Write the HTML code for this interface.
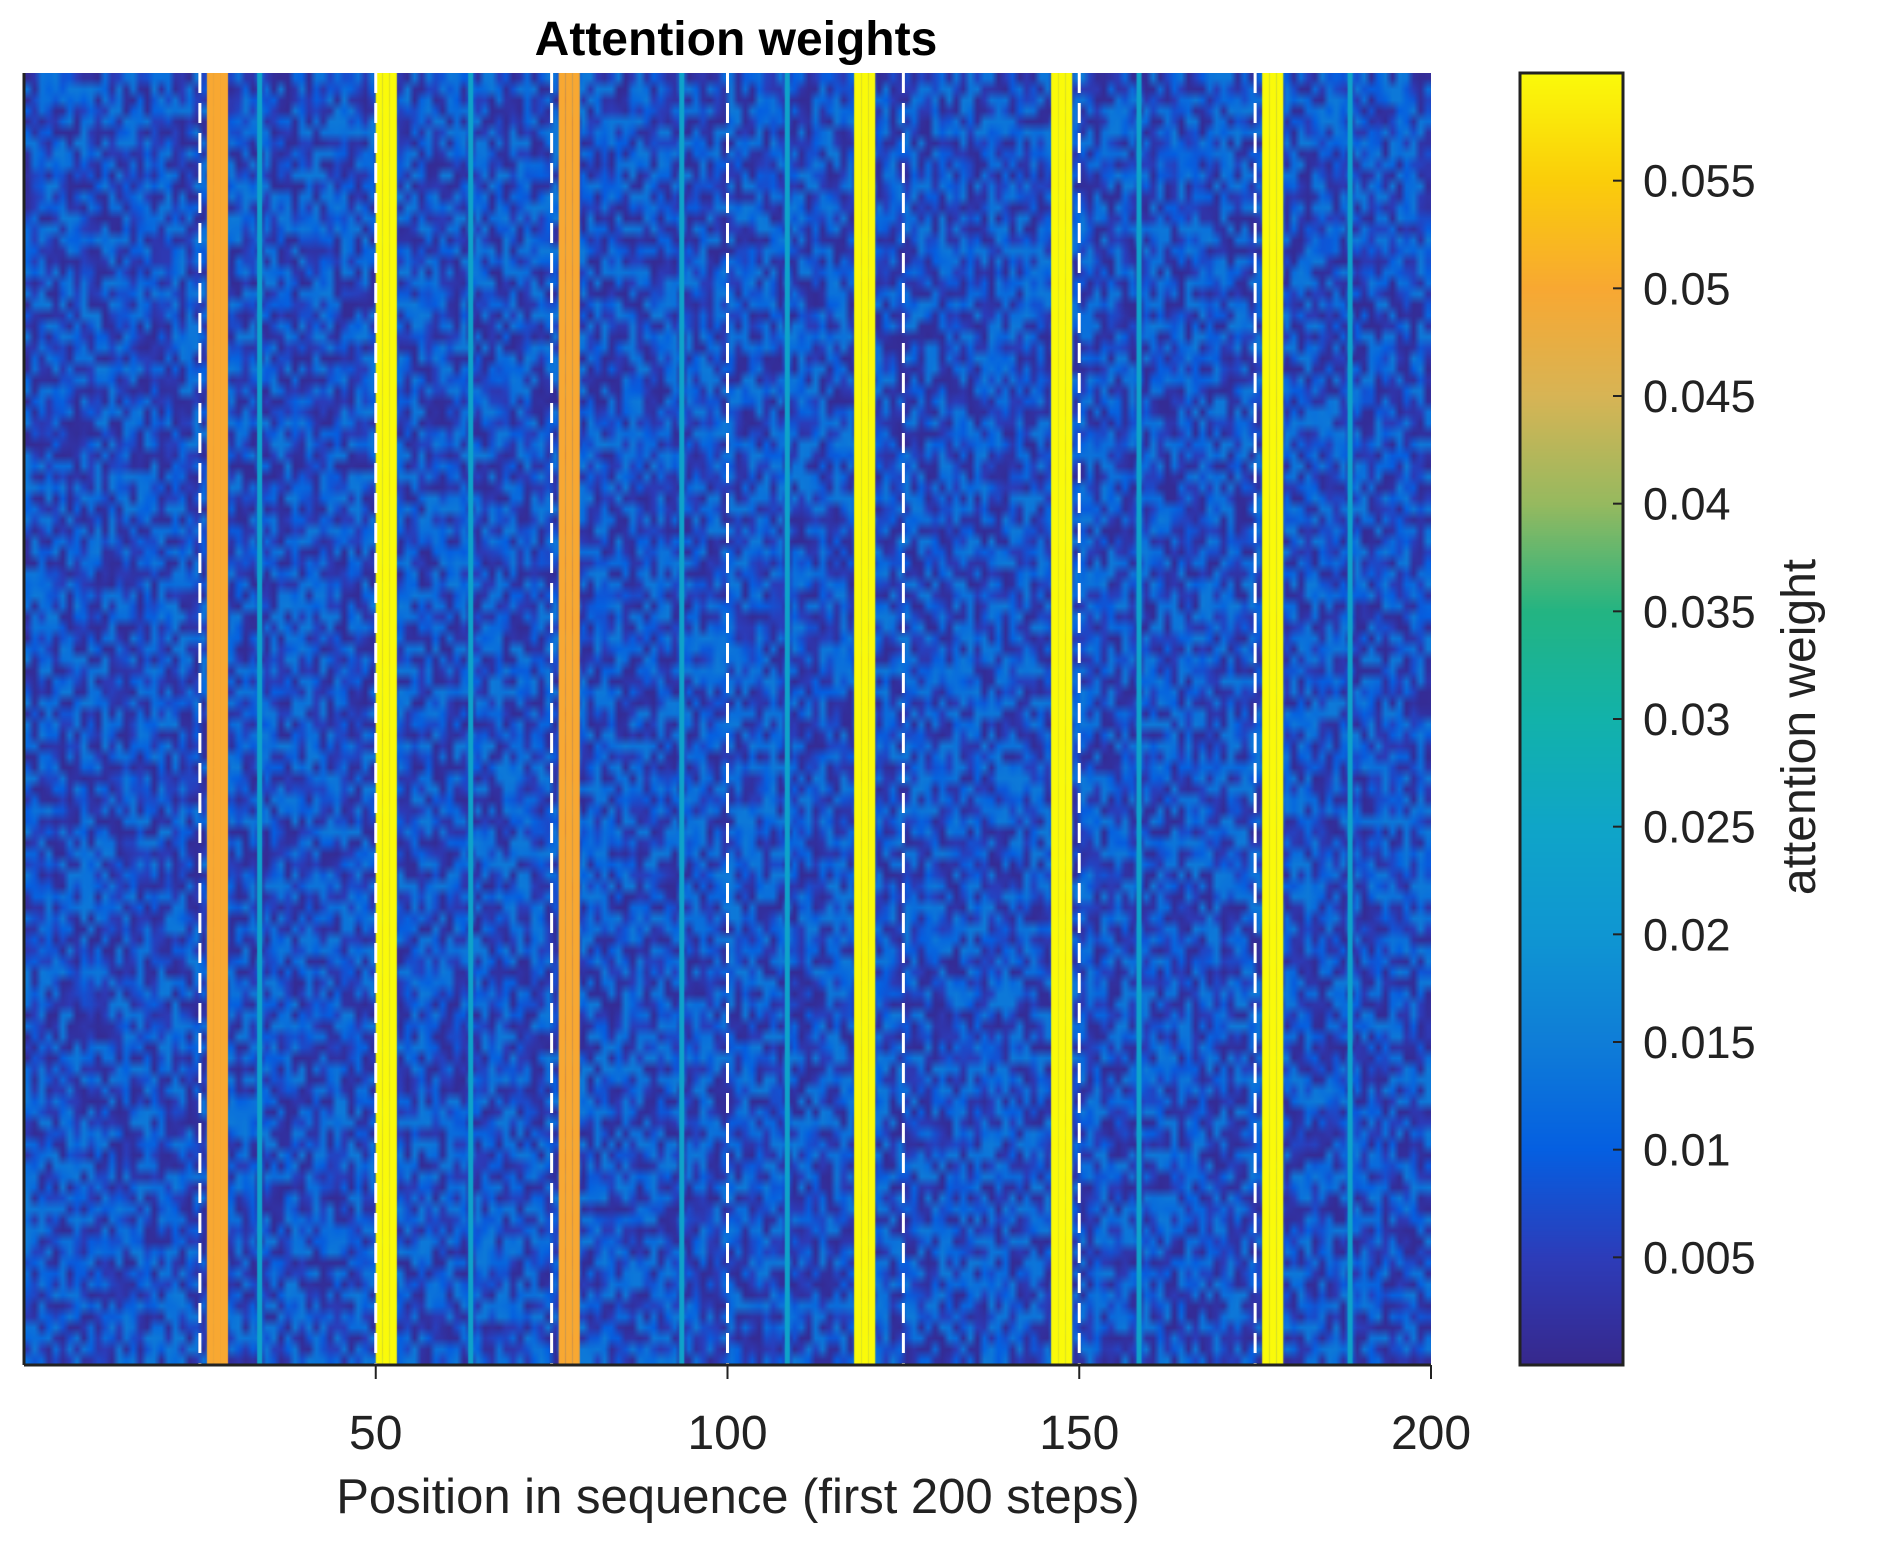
<!DOCTYPE html>
<html><head><meta charset="utf-8"><style>
html,body{margin:0;padding:0;background:#fff;width:1877px;height:1550px;overflow:hidden}
#wrap{position:relative;width:1877px;height:1550px;font-family:"Liberation Sans",Arial,sans-serif}
canvas{position:absolute}
svg{position:absolute;left:0;top:0}
</style></head><body>
<div id="wrap">
<canvas id="heat" width="1407" height="1292" style="left:24px;top:73px"></canvas>
<canvas id="cbar" width="103" height="1292" style="left:1520px;top:73px"></canvas>
<svg id="ov" width="1877" height="1550"></svg>
</div>
<script>
// ---- data ----
const nCols = 200;
const nRows = 120;
const peakCols = [27,28,29, 51,52,53, 77,78,79, 119,120,121, 147,148,149, 177,178,179];
const peakVals = [0.050,0.050,0.050, 0.060,0.060,0.060, 0.050,0.050,0.050, 0.060,0.060,0.060, 0.060,0.060,0.060, 0.060,0.060,0.060];
const tealCols = [34, 64, 94, 109, 159, 189];
const tealVals = [0.024, 0.024, 0.024, 0.024, 0.024, 0.024];
const dashedX = [25, 50, 75, 100, 125, 150, 175];
const xTicks = [50, 100, 150, 200];
const xTickLabels = ["50","100","150","200"];
const cTicks = [0.005,0.01,0.015,0.02,0.025,0.03,0.035,0.04,0.045,0.05,0.055];
const cTickLabels = ["0.005","0.01","0.015","0.02","0.025","0.03","0.035","0.04","0.045","0.05","0.055"];
const bgLow = 0.001, bgHigh = 0.0145;
const cMin = 0, cMax = 0.06;

// ---- geometry ----
const PX0=24, PX1=1431, PY0=73, PY1=1365;
const CX0=1520, CX1=1623;
const xScale = v => PX0 + (v/200)*(PX1-PX0);
const cScale = v => PY1 - (v-cMin)/(cMax-cMin)*(PY1-PY0);

const stops=[[55,40,140],[45,60,185],[5,95,225],[15,125,215],[15,150,210],[15,165,200],[18,178,170],[35,180,130],[150,185,95],[215,180,85],[248,168,50],[250,205,10],[250,250,10]];
function parula(v){
  let t=Math.max(0,Math.min(1,(v-cMin)/(cMax-cMin)))*(stops.length-1);
  let i=Math.min(stops.length-2,Math.floor(t)),f=t-i;
  return stops[i].map((c,k)=>Math.round(c+(stops[i+1][k]-c)*f));
}
// background texture (deterministic hash)
function hash(i,j){let s=Math.sin(i*127.1+j*311.7)*43758.5453;return s-Math.floor(s);}

const hc=document.getElementById('heat'),hx=hc.getContext('2d');
const small=document.createElement('canvas');small.width=nCols;small.height=nRows;
const sx=small.getContext('2d');const img=sx.createImageData(nCols,nRows);
for(let r=0;r<nRows;r++)for(let c=0;c<nCols;c++){
  let h=hash(c,r); h=h<0.5?2*h*h:1-2*(1-h)*(1-h);
  const v=bgLow+(bgHigh-bgLow)*h;
  const col=parula(v);const p=(r*nCols+c)*4;
  img.data[p]=col[0];img.data[p+1]=col[1];img.data[p+2]=col[2];img.data[p+3]=255;
}
sx.putImageData(img,0,0);
hx.imageSmoothingEnabled=true;
hx.drawImage(small,0,0,hc.width,hc.height);
function colRect(c,v,shrink){
  const x0=xScale(c-1)-PX0,x1=xScale(c)-PX0;const col=parula(v);
  hx.fillStyle=`rgb(${col})`;hx.fillRect(x0+shrink,0,x1-x0-2*shrink,hc.height);
}
peakCols.forEach((c,i)=>colRect(c,peakVals[i],0));
tealCols.forEach((c,i)=>colRect(c,tealVals[i],1));

const cc=document.getElementById('cbar'),cx=cc.getContext('2d');
for(let y=0;y<cc.height;y++){const v=cMax-(y/cc.height)*(cMax-cMin);cx.fillStyle=`rgb(${parula(v)})`;cx.fillRect(0,y,cc.width,1);}

const NS='http://www.w3.org/2000/svg',ov=document.getElementById('ov');
function el(tag,attrs,txt){const e=document.createElementNS(NS,tag);for(const k in attrs)e.setAttribute(k,attrs[k]);if(txt!==undefined)e.textContent=txt;ov.appendChild(e);return e;}
dashedX.forEach(d=>{const l=el('line',{x1:xScale(d),x2:xScale(d),y1:PY0,y2:PY1,stroke:'#fff','stroke-width':3,'stroke-dasharray':'20 10'});

});
let a=el('line',{x1:PX0,x2:PX1,y1:PY1,y2:PY1,stroke:'#222','stroke-width':3});


a=el('line',{x1:PX0,x2:PX0,y1:PY0,y2:PY1,stroke:'#222','stroke-width':3});


xTicks.forEach((t,i)=>{
  const x=xScale(t);
  const tk=el('line',{x1:x,x2:x,y1:PY1,y2:PY1+14,stroke:'#222','stroke-width':2});
  
  
  const lb=el('text',{x:x,y:1465-16,'text-anchor':'middle','font-size':48,fill:'#222'},xTickLabels[i]);
  
  
});
let cb=el('rect',{x:CX0,y:PY0,width:CX1-CX0,height:PY1-PY0,fill:'none',stroke:'#222','stroke-width':3});


cTicks.forEach((t,i)=>{
  const y=cScale(t);
  const tk=el('line',{x1:CX1-10,x2:CX1,y1:y,y2:y,stroke:'#222','stroke-width':2});
  
  
  const lb=el('text',{x:1643,y:y+16,'font-size':45,fill:'#222'},cTickLabels[i]);
  
  
});
let t=el('text',{x:736,y:55,'text-anchor':'middle','font-size':48,'font-weight':'bold',fill:'#000'},'Attention weights');


t=el('text',{x:738,y:1513,'text-anchor':'middle','font-size':49,fill:'#222'},'Position in sequence (first 200 steps)');


t=el('text',{x:0,y:0,'text-anchor':'middle','font-size':48,fill:'#222',transform:'translate(1815,727) rotate(-90)'},'attention weight');


</script>
</body></html>
